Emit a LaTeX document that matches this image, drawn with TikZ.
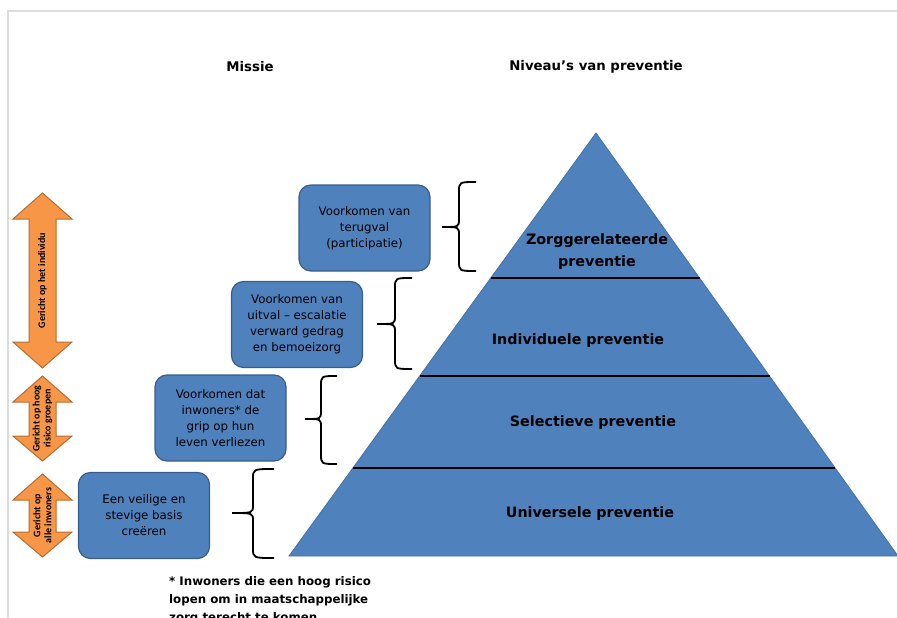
\documentclass[tikz,border=0pt]{standalone}
\usepackage{fontspec}
\setmainfont{DejaVu Sans}
\newfontfamily\carl{Carlito}
\usetikzlibrary{calc}
\definecolor{boxblue}{HTML}{4F81BD}
\definecolor{boxedge}{HTML}{385D8A}
\definecolor{pyredge}{HTML}{4472A8}
\definecolor{orfill}{HTML}{F79646}
\definecolor{oredge}{HTML}{B66D31}
\definecolor{frame}{HTML}{DDDDDD}
\newcommand\curlybr[6]{% tip x, spine x, end x, top y, mid y, bottom y
  \draw[bracepath] (#3,#4) .. controls (#2,#4) .. (#2,#4+10) -- (#2,#5-8)
    .. controls (#2,#5) .. (#1,#5) .. controls (#2,#5) .. (#2,#5+8)
    -- (#2,#6-10) .. controls (#2,#6) .. (#3,#6);}
\newcommand\dblarrow[4]{% top tip y, head base 1, head base 2, bottom tip y
  \draw[arrowshape] (42.5,#1) -- (72,#2) -- (56,#2) -- (56,#3) -- (72,#3)
    -- (42.5,#4) -- (13,#3) -- (29,#3) -- (29,#2) -- (13,#2) -- cycle;}
\begin{document}
\begin{tikzpicture}[x=1pt,y=-1pt,
  missionbox/.style={draw=boxedge, line width=1.2pt, fill=boxblue, rounded corners=12pt,
    minimum width=131pt, minimum height=86pt, align=center, inner sep=0pt,
    font=\fontsize{11.8}{16}\selectfont},
  levellabel/.style={align=center, font=\bfseries\fontsize{14.3}{22}\selectfont},
  heading/.style={font=\bfseries\fontsize{13.3}{16}\selectfont},
  bracepath/.style={line width=1.8pt, black},
  arrowshape/.style={draw=oredge, line width=1pt, fill=orfill, line join=miter},
  arrowtext/.style={rotate=90, align=center, font=\carl\bfseries\fontsize{10}{11}\selectfont},
  divider/.style={line width=1.8pt, black}]
\useasboundingbox (0,0) rectangle (897,618);
% frame
\draw[frame, line width=1.2pt] (8,620) -- (8,11) -- (899,11);
% headings
\node[heading] (missie) at (250,67) {Missie};
\node[heading] (niveaus) at (596,67) {Niveau's van preventie};
% pyramid
\coordinate (apex) at (596,133);
\coordinate (bl) at (289,556);
\coordinate (br) at (898,556);
\fill[boxblue, draw=pyredge, line width=0.8pt] (apex) -- (bl) -- (br) -- cycle;
\draw[divider] ($(apex)!0.3428!(bl)$) -- ($(apex)!0.3428!(br)$);
\draw[divider] ($(apex)!0.5745!(bl)$) -- ($(apex)!0.5745!(br)$);
\draw[divider] ($(apex)!0.7920!(bl)$) -- ($(apex)!0.7920!(br)$);
\node[levellabel] (zorg) at (597,252) {Zorggerelateerde\\preventie};
\node[levellabel] (indiv) at (578,341) {Individuele preventie};
\node[levellabel] (selec) at (593,423) {Selectieve preventie};
\node[levellabel] (univ) at (590,514) {Universele preventie};
% mission boxes
\node[missionbox] (m1) at (364.5,228) {Voorkomen van\\terugval\\(participatie)};
\node[missionbox] (m2) at (297,324.5) {Voorkomen van\\uitval -- escalatie\\verward gedrag\\en bemoeizorg};
\node[missionbox] (m3) at (220.5,418) {Voorkomen dat\\inwoners* de\\grip op hun\\leven verliezen};
\node[missionbox] (m4) at (144,515.5) {Een veilige en\\stevige basis\\creëren};
% braces
\curlybr{442}{459}{476}{182}{227}{271}
\curlybr{377}{395}{412}{278}{324}{369}
\curlybr{305}{321}{337}{376}{419}{464}
\curlybr{232}{253}{274}{469}{513}{558}
% orange double arrows
\dblarrow{193}{219}{342}{368}
\node[arrowtext] (a1) at (42.5,280.5) {Gericht op het individu};
\dblarrow{376}{402}{436}{461}
\node[arrowtext] (a2) at (42.5,418.5) {Gericht op hoog\\risico groepen};
\dblarrow{474}{500}{532}{557}
\node[arrowtext] (a3) at (42.5,515.5) {Gericht op\\alle inwoners};
% footnote
\node[anchor=north west, align=left, inner sep=0pt,
  font=\bfseries\fontsize{11.8}{18}\selectfont] (note) at (169,576)
  {* Inwoners die een hoog risico\\lopen om in maatschappelijke\\zorg terecht te komen};
\end{tikzpicture}
\end{document}
